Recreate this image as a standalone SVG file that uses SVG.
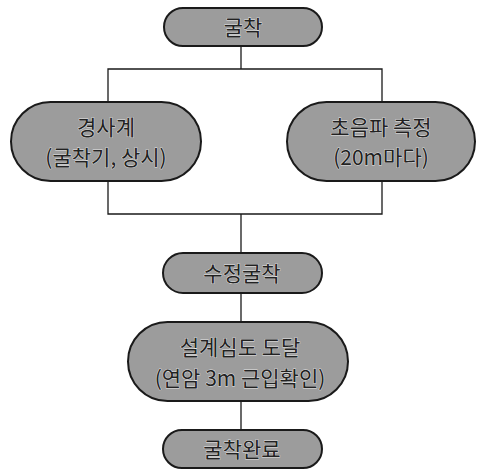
<svg xmlns="http://www.w3.org/2000/svg" width="478" height="473" viewBox="0 0 478 473">
<style>
.n{fill:#9c9c9c;stroke:#1a1a1a;stroke-width:2}
.t{font-family:"Noto Sans CJK KR","Liberation Sans",sans-serif;font-size:21px;fill:#222;text-anchor:middle;stroke:#e6e6e6;stroke-width:0.8;paint-order:stroke}
.c{fill:none;stroke:#1a1a1a;stroke-width:1.3}
</style>
<rect width="478" height="473" fill="#fff"/>
<g id="connectors">
<line class="c" x1="241" y1="47" x2="241" y2="69"/>
<polyline class="c" points="108,102 108,69 382,69 382,102"/>
<polyline class="c" points="108,181 108,214 382,214 382,181"/>
<line class="c" x1="241" y1="214" x2="241" y2="253"/>
<line class="c" x1="241" y1="293" x2="241" y2="322"/>
<line class="c" x1="241" y1="401" x2="241" y2="430"/>
</g>
<g id="n1"><rect class="n" x="164" y="8" width="158" height="38" rx="19"/><text class="t" x="243" y="35">굴착</text></g>
<g id="n2"><rect class="n" x="11" y="102" width="190" height="79" rx="39.5"/><text class="t" x="106" y="135">경사계</text><text class="t" x="106" y="165">(굴착기, 상시)</text></g>
<g id="n3"><rect class="n" x="287" y="102" width="188" height="79" rx="39.5"/><text class="t" x="381" y="135">초음파 측정</text><text class="t" x="381" y="165">(20m마다)</text></g>
<g id="n4"><rect class="n" x="163" y="253" width="159" height="40" rx="20"/><text class="t" x="242" y="281">수정굴착</text></g>
<g id="n5"><rect class="n" x="128" y="322" width="220" height="79" rx="39.5"/><text class="t" x="240" y="355">설계심도 도달</text><text class="t" x="240" y="386">(연암 3m 근입확인)</text></g>
<g id="n6"><rect class="n" x="163" y="430" width="159" height="38" rx="19"/><text class="t" x="242" y="457">굴착완료</text></g>
</svg>
